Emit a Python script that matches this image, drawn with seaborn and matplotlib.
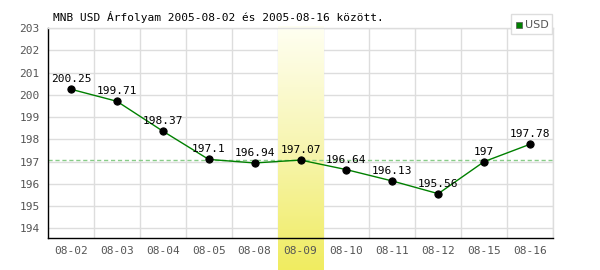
import numpy as np
import pandas as pd
import matplotlib
matplotlib.use("Agg")
import matplotlib.pyplot as plt
import seaborn as sns
from matplotlib.colors import LinearSegmentedColormap
from matplotlib.patches import Rectangle

dates = ["08-02", "08-03", "08-04", "08-05", "08-08", "08-09",
         "08-10", "08-11", "08-12", "08-15", "08-16"]
rates = [200.25, 199.71, 198.37, 197.1, 196.94, 197.07,
         196.64, 196.13, 195.56, 197, 197.78]
labels = ["200.25", "199.71", "198.37", "197.1", "196.94", "197.07",
          "196.64", "196.13", "195.56", "197", "197.78"]
highlight = "08-09"
yticks = [194, 195, 196, 197, 198, 199, 200, 201, 202, 203]
title = "MNB USD Árfolyam 2005-08-02 és 2005-08-16 között."
series_name = "USD"

sns.set_style("white")
plt.rcParams["font.family"] = ["DejaVu Sans Mono", "DejaVu Sans"]

df = pd.DataFrame({"date": dates, "rate": rates, "x": np.arange(len(dates))})

fig = plt.figure(figsize=(6, 2.7), dpi=100)
rect = [48 / 600, (270 - 238) / 270, (553 - 48) / 600, (238 - 28) / 270]
ylo, yhi = 193.57, 203.0
xlo, xhi = -0.5, len(dates) - 0.5

# background axes: grid + highlight band
bg = fig.add_axes(rect, zorder=0)
bg.set_facecolor("white")
for t in yticks:
    bg.axhline(t, color="#dddddd", lw=1, zorder=0.5)
for i in range(len(dates)):
    bg.axvline(i + 0.5, color="#dddddd", lw=1, zorder=0.5)
hi = dates.index(highlight)
cmap = LinearSegmentedColormap.from_list("yl", ["#fffff2", "#f7f5b0", "#f0ec60"])
grad = np.linspace(0, 1, 256).reshape(-1, 1)
band_bottom = ylo - 32 / 22.2
band_top = yhi + 1 / 22.2
bg.imshow(grad, cmap=cmap, aspect="auto", origin="upper",
          extent=(hi - 0.5, hi + 0.5, band_bottom, band_top),
          zorder=1, clip_on=False, interpolation="bilinear")
bg.set_xlim(xlo, xhi)
bg.set_ylim(ylo, yhi)
bg.axis("off")

# main axes
ax = fig.add_axes(rect, zorder=1)
ax.set_facecolor("none")

ax.axhline(rates[hi], color="#88cc88", lw=1, ls=(0, (3, 2)), zorder=2)

sns.lineplot(data=df, x="x", y="rate", ax=ax, color="#008000", lw=1,
             marker="o", markersize=5.2, markerfacecolor="black",
             markeredgecolor="black", zorder=3, legend=False)

for xi, yv, lab in zip(df["x"], rates, labels):
    ax.text(xi, yv + 0.22, lab, ha="center", va="bottom", fontsize=8,
            color="black", zorder=4)

ax.set_xlim(xlo, xhi)
ax.set_ylim(ylo, yhi)
ax.set_xticks(df["x"])
ax.set_xticklabels(dates)
ax.set_yticks(yticks)
ax.tick_params(axis="both", length=0, labelsize=8, colors="#555555", pad=6)
ax.set_xlabel("")
ax.set_ylabel("")

for side in ["top", "right"]:
    ax.spines[side].set_color("#dddddd")
    ax.spines[side].set_linewidth(1)
for side in ["left", "bottom"]:
    ax.spines[side].set_color("black")
    ax.spines[side].set_linewidth(1)

fig.text(53 / 600, 1 - 17 / 270, title, fontsize=8, color="black",
         ha="left", va="center")

# legend box
lx0, ly0, lw_, lh_ = 511, 14, 41, 20
fig.patches.append(Rectangle((lx0 / 600, 1 - (ly0 + lh_) / 270), lw_ / 600, lh_ / 270,
                             transform=fig.transFigure, facecolor="white",
                             edgecolor="#dddddd", lw=1, zorder=10))
fig.patches.append(Rectangle((516 / 600, 1 - 28 / 270), 6 / 600, 6 / 270,
                             transform=fig.transFigure, facecolor="#008000",
                             edgecolor="#555555", lw=0.5, zorder=11))
fig.text(525 / 600, 1 - 24.5 / 270, series_name, fontsize=8, color="#555555",
         ha="left", va="center", family=["DejaVu Sans"], zorder=12)

fig.savefig("out.png", dpi=100)
